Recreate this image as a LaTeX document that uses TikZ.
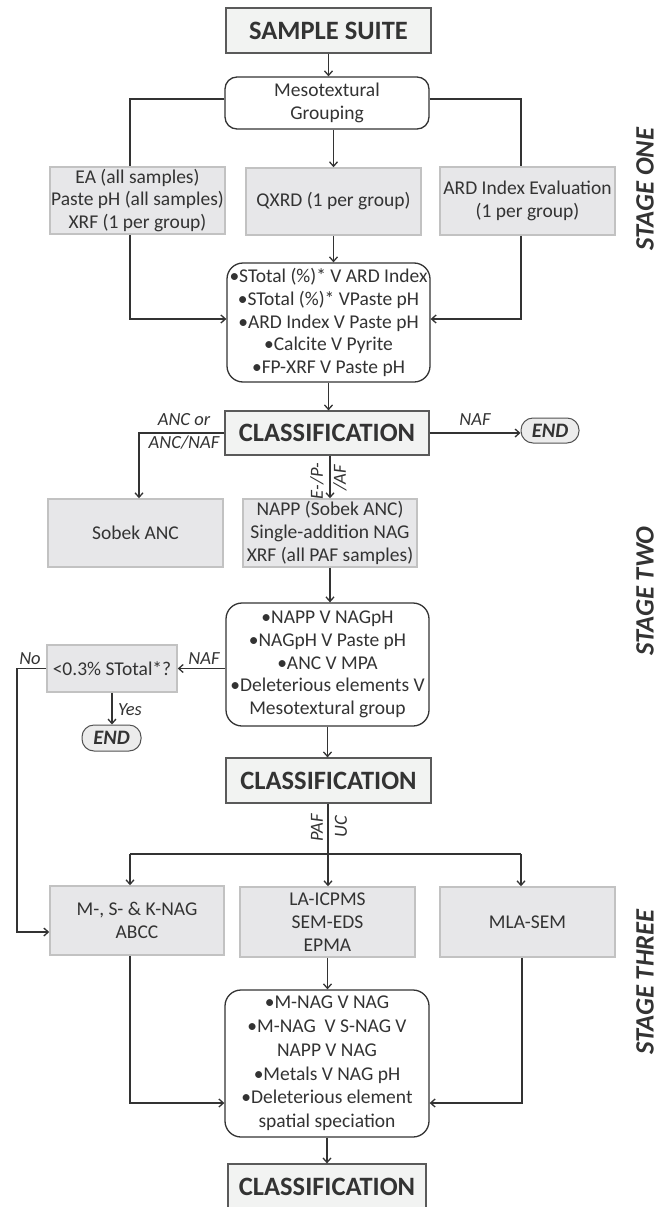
\documentclass[tikz,border=0pt]{standalone}
\usepackage{fontspec}
\setmainfont{Carlito}
\usetikzlibrary{arrows.meta}
\definecolor{ink}{HTML}{333333}
\definecolor{procfill}{HTML}{E7E7E9}
\definecolor{procline}{HTML}{C2C2C2}
\definecolor{titlefill}{HTML}{F2F3F2}
\definecolor{titleline}{HTML}{5A5A5A}
\definecolor{endfill}{HTML}{ECECEC}
\begin{document}
\begin{tikzpicture}[x=1pt,y=-1pt,
  base/.style={align=center,inner sep=0pt,text=ink,font=\fontsize{19.5}{22.7}\selectfont},
  proc/.style={base,draw=procline,fill=procfill,line width=1.5pt,minimum width=175pt,minimum height=68pt},
  titlebox/.style={base,draw=titleline,fill=titlefill,line width=1.2pt,minimum width=205pt,minimum height=45pt,font=\fontsize{26.5}{30}\selectfont\bfseries},
  roundbox/.style={base,draw=ink,fill=white,line width=1.3pt,rounded corners=16pt,minimum width=204pt},
  endbox/.style={base,draw=ink!85,fill=endfill,line width=1pt,rounded corners=12pt,minimum width=58pt,minimum height=25pt,font=\fontsize{20.5}{22}\selectfont\bfseries\itshape},
  lab/.style={text=ink,inner sep=0pt,font=\fontsize{18.5}{22}\selectfont\itshape},
  rlab/.style={lab,rotate=90,font=\fontsize{18.5}{20}\selectfont\itshape},
  stage/.style={text=ink,inner sep=0pt,rotate=90,font=\fontsize{26.5}{30}\selectfont\bfseries\itshape},
  conn/.style={draw=ink,line width=1.6pt},
  arr/.style={conn,-{Straight Barb[length=4.5pt,width=8pt,line width=1.3pt]}}
]
\fill[white] (0,0) rectangle (665,1207);
\useasboundingbox (0,0) rectangle (665,1207);

% ---------- stage one ----------
\node[titlebox] (sample) at (328.5,30.5) {SAMPLE SUITE};
\node[roundbox,minimum height=52pt,rounded corners=12pt] (meso) at (327,103) {Mesotextural\\Grouping};
\node[proc,minimum height=67pt] (ea) at (137.5,200.5) {EA (all samples)\\Paste pH (all samples)\\XRF (1 per group)};
\node[proc,minimum height=67pt] (qxrd) at (333.5,201.5) {QXRD (1 per group)};
\node[proc] (ard) at (527.5,201) {ARD Index Evaluation\\(1 per group)};
\node[roundbox,minimum width=203pt,minimum height=119pt] (s1) at (328.5,322.5) {•STotal (\%)* V ARD Index\\•STotal (\%)* VPaste pH\\•ARD Index V Paste pH\\•Calcite V Pyrite\\•FP-XRF V Paste pH};
\node[titlebox,minimum width=204pt,minimum height=44pt] (c1) at (327,433) {CLASSIFICATION};
\node[endbox] (e1) at (550,430.5) {END};

% ---------- stage two ----------
\node[proc] (sobek) at (135.5,533) {Sobek ANC};
\node[proc,minimum width=174pt] (napp) at (330,533) {NAPP (Sobek ANC)\\Single-addition NAG\\XRF (all PAF samples)};
\node[roundbox,minimum width=203pt,minimum height=123pt] (s2) at (327.5,664.5) {•NAPP V NAGpH\\•NAGpH V Paste pH\\•ANC V MPA\\•Deleterious elements V\\Mesotextural group};
\node[proc,minimum width=130pt,minimum height=47pt] (q) at (112,668.5) {<0.3\% STotal*?};
\node[endbox,minimum width=59pt,minimum height=26pt] (e2) at (111.5,738) {END};
\node[titlebox] (c2) at (328.5,780.5) {CLASSIFICATION};

% ---------- stage three ----------
\node[proc,minimum width=174pt,minimum height=69pt] (mnag) at (137,920.5) {M-, S- \& K-NAG\\ABCC};
\node[proc,minimum height=70pt] (la) at (327.5,922) {LA-ICPMS\\SEM-EDS\\EPMA};
\node[proc,minimum height=70pt] (mla) at (527.5,922) {MLA-SEM};
\node[roundbox,minimum height=147pt,font=\fontsize{19.5}{23.8}\selectfont] (s3) at (327,1063.5) {•M-NAG V NAG\\•M-NAG\ \ V S-NAG V\\NAPP V NAG\\•Metals V NAG pH\\•Deleterious element\\spatial speciation};
\node[titlebox,minimum width=198pt] (c3) at (327,1186.5) {CLASSIFICATION};

% ---------- stage labels ----------
\node[stage] (st1) at (645,189) {STAGE ONE};
\node[stage] (st2) at (645,591) {STAGE TWO};
\node[stage] (st3) at (645,982) {STAGE THREE};

% ---------- coordinates ----------
\coordinate (m1) at (130,99);
\coordinate (m2) at (521,99);
\coordinate (j1) at (130,319);
\coordinate (j2) at (521,319);
\coordinate (k1) at (139,432);
\coordinate (n1) at (17,669);
\coordinate (n2) at (17,932);
\coordinate (t) at (328,854);
\coordinate (tl) at (130,854);
\coordinate (tr) at (521,854);
\coordinate (b1) at (130,1103);
\coordinate (b2) at (522,1103);

% ---------- connectors ----------
\draw[arr] (sample.south) -- (sample.south |- meso.north);
\draw[conn] (meso.west |- m1) -| (ea.north -| m1);
\draw[conn] (meso.east |- m2) -| (ard.north -| m2);
\draw[arr] (qxrd.north |- meso.south) -- (qxrd.north);
\draw[arr] (ea.south -| j1) |- (s1.west |- j1);
\draw[arr] (ard.south -| j2) |- (s1.east |- j2);
\draw[arr] (qxrd.south) -- (qxrd.south |- s1.north);
\draw[arr] (s1.south) -- (s1.south |- c1.north);
\draw[arr] (c1.west) -| (sobek.north -| k1);
\draw[arr] (c1.east) -- (c1.east -| e1.west);
\draw[arr] (c1.south -| napp.north) -- (napp.north);
\draw[arr] (napp.south) -- (napp.south |- s2.north);
\draw[arr] (s2.west |- q.east) -- (q.east);
\draw[arr] (q.west) -- (q.west -| n1) -- (n2) -- (mnag.west |- n2);
\draw[arr] (q.south) -- (q.south |- e2.north);
\draw[arr] (s2.south) -- (s2.south |- c2.north);
\draw[conn] (c2.south -| t) -- (t);
\draw[conn] (tl) -- (tr);
\draw[arr] (tl) -- (mnag.north -| tl);
\draw[arr] (t) -- (la.north -| t);
\draw[arr] (tr) -- (mla.north -| tr);
\draw[arr] (mnag.south -| b1) |- (s3.west |- b1);
\draw[arr] (mla.south -| b2) |- (s3.east |- b2);
\draw[arr] (la.south) -- (la.south |- s3.north);
\draw[arr] (s3.south) -- (s3.south |- c3.north);

% ---------- connector labels ----------
\node[lab] (l1) at (184,420) {ANC or};
\node[lab] (l2) at (184,443) {ANC/NAF};
\node[lab] (l3) at (475,420) {NAF};
\node[rlab] (l4) at (317,481) {E-/P-};
\node[rlab] (l5) at (340,478) {/AF};
\node[lab] (l6) at (204,659) {NAF};
\node[lab] (l7) at (30,659) {No};
\node[lab] (l8) at (130,710) {Yes};
\node[rlab] (l9) at (317,828) {PAF};
\node[rlab] (l10) at (341,827) {UC};
\end{tikzpicture}
\end{document}
